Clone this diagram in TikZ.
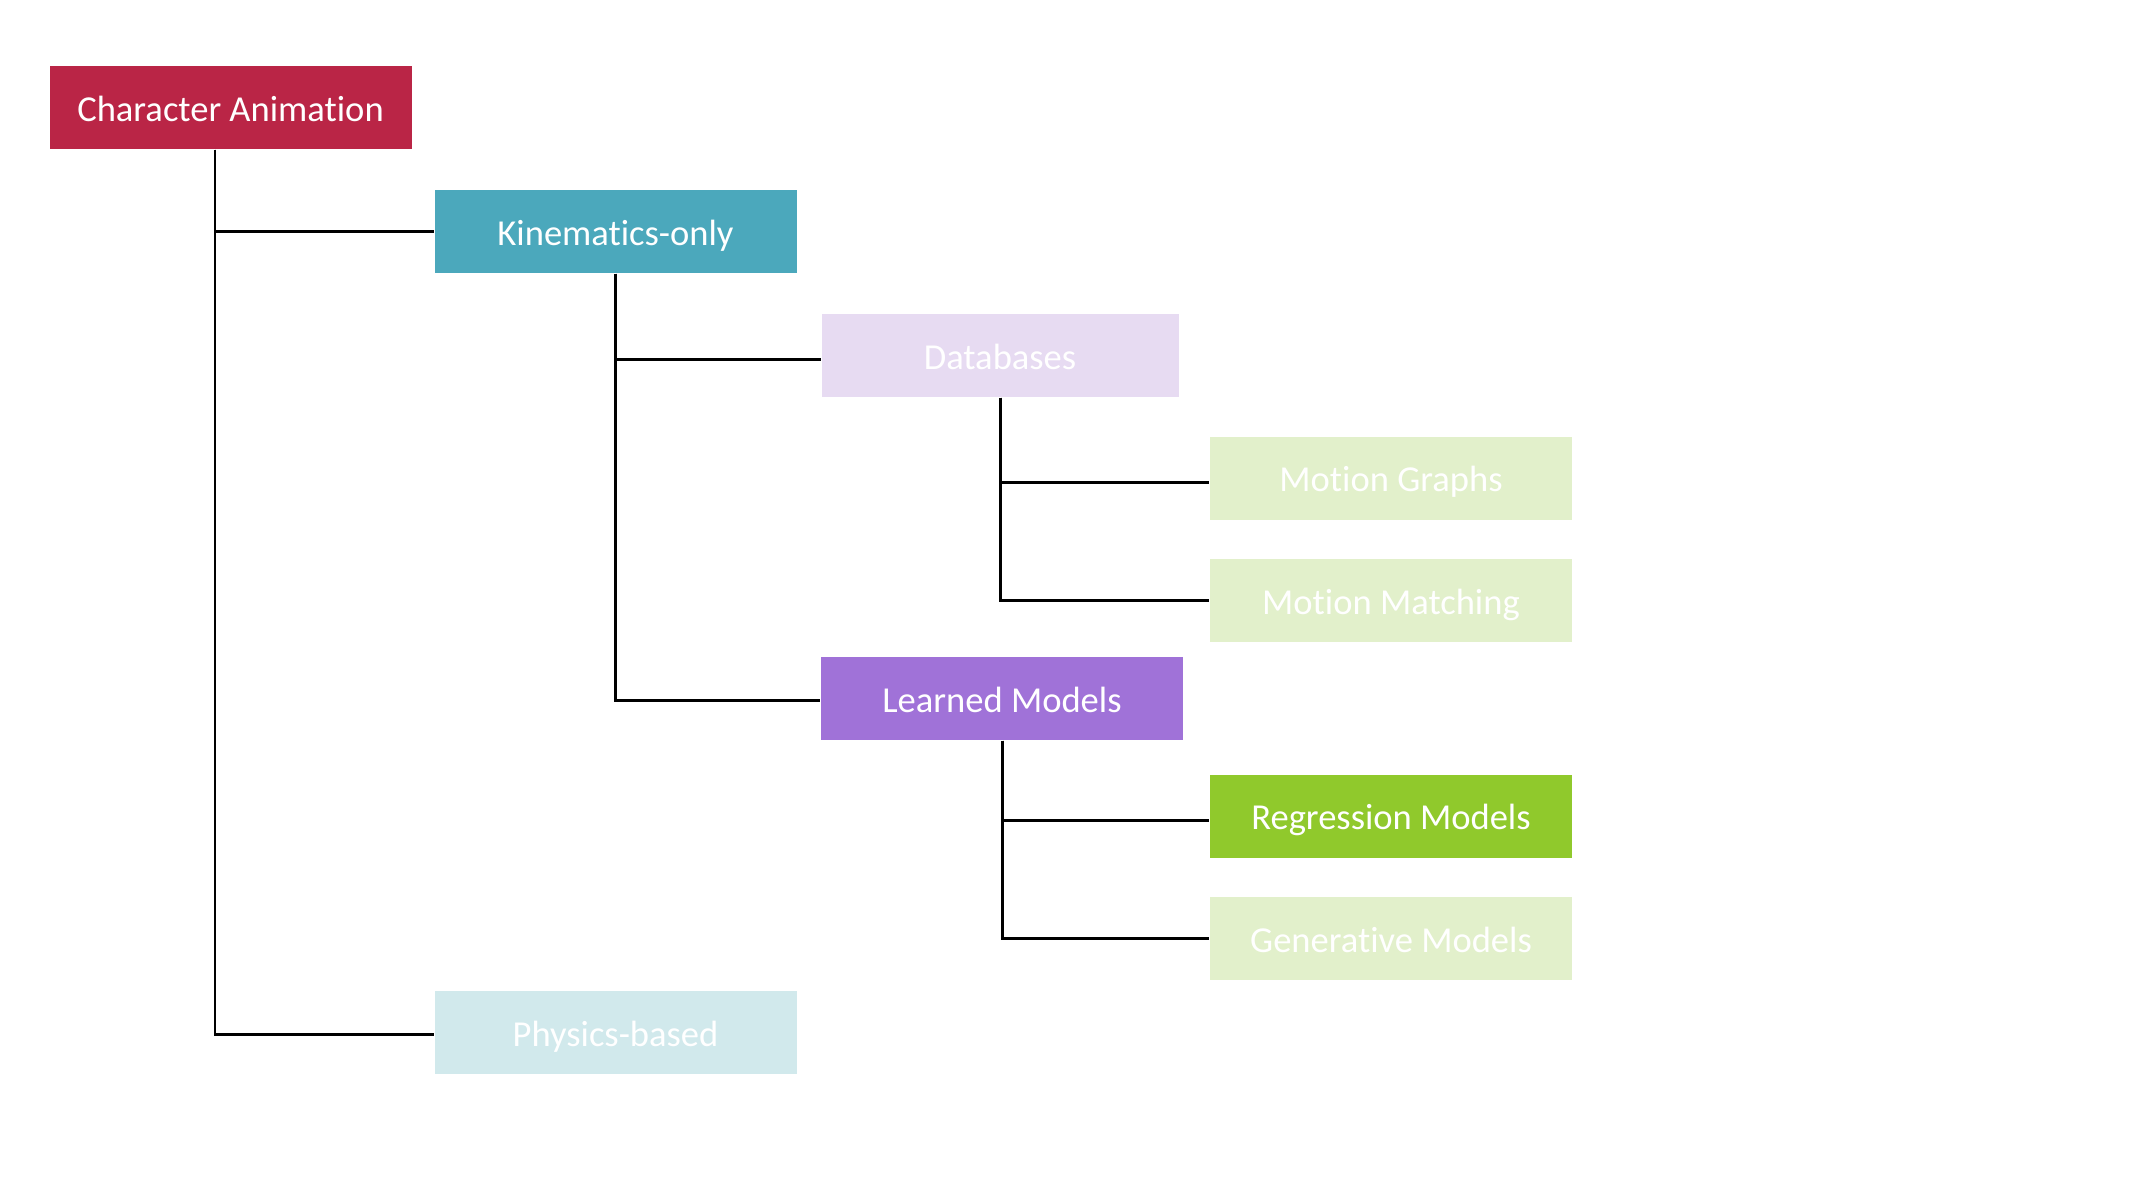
\documentclass[tikz,border=0pt]{standalone}
\usepackage{fontspec}
\setmainfont{Carlito}[Ligatures=NoCommon]
\begin{document}
\begin{tikzpicture}[
  box/.style={rectangle, minimum width=3.62cm, minimum height=0.83cm, inner sep=0pt, text height=9pt, text depth=1.3pt, text=white, font=\fontsize{10.4pt}{12pt}\selectfont},
  conn/.style={draw=black, line width=0.85pt}
]
\definecolor{cRed}{HTML}{BA2546}
\definecolor{cTeal}{HTML}{4BA8BC}
\definecolor{cLav}{HTML}{E7DBF2}
\definecolor{cLgreen}{HTML}{E2F0CB}
\definecolor{cPurple}{HTML}{A072D8}
\definecolor{cGreen}{HTML}{90C92C}
\definecolor{cLteal}{HTML}{D1E9EC}
\useasboundingbox[fill=white] (0,0) rectangle (21.33,-12);

\node[box, fill=cRed]    (ca) at (2.305,-1.075) {Character Animation};
\node[box, fill=cTeal]   (ko) at (6.155,-2.315) {Kinematics-only};
\node[box, fill=cLav, minimum width=3.57cm] (db) at (10.0,-3.555)  {Databases};
\node[box, fill=cLgreen] (mg) at (13.91,-4.78)  {Motion Graphs};
\node[box, fill=cLgreen] (mm) at (13.91,-6.005) {Motion Matching};
\node[box, fill=cPurple] (lm) at (10.02,-6.985) {Learned Models};
\node[box, fill=cGreen]  (rm) at (13.91,-8.16)  {Regression Models};
\node[box, fill=cLgreen] (gm) at (13.91,-9.385) {Generative Models};
\node[box, fill=cLteal]  (pb) at (6.155,-10.325) {Physics-based};

\coordinate (rx) at (2.15,0);
\draw[conn] (rx |- ca.south) |- (ko.west);
\draw[conn] (rx |- ca.south) |- ([yshift=-0.02cm]pb.west);
\draw[conn] (ko.south) |- ([yshift=-0.04cm]db.west);
\draw[conn] (ko.south) |- ([yshift=-0.02cm]lm.west);
\draw[conn] (db.south) |- ([yshift=-0.04cm]mg.west);
\draw[conn] (db.south) |- (mm.west);
\draw[conn] (lm.south) |- ([yshift=-0.04cm]rm.west);
\draw[conn] (lm.south) |- (gm.west);
\end{tikzpicture}
\end{document}
